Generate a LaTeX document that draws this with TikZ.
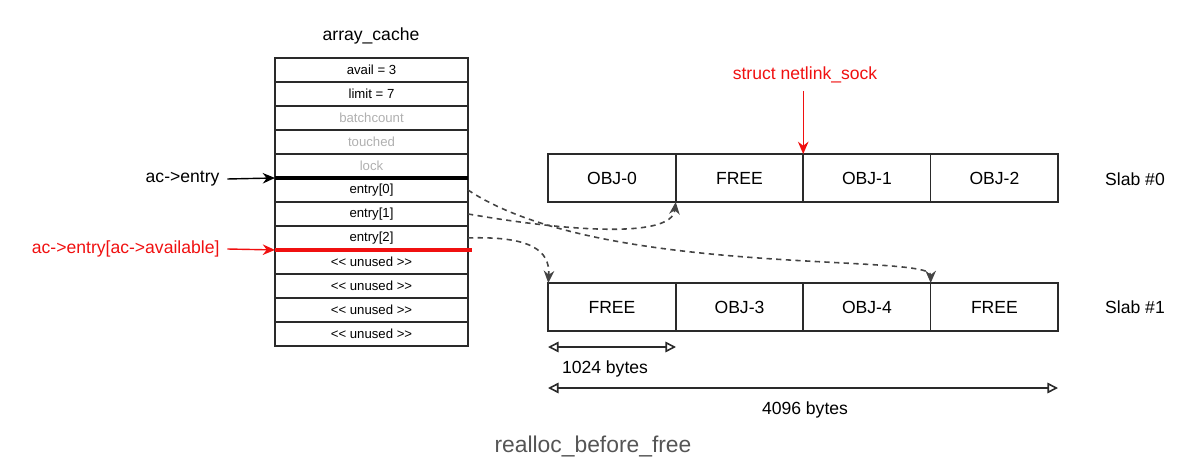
\documentclass[tikz,border=0pt]{standalone}
\usepackage{fontspec}
\setmainfont{Liberation Sans}
\usetikzlibrary{positioning,arrows.meta}
\definecolor{linegray}{HTML}{2A2A2A}
\definecolor{dashgray}{HTML}{444444}
\definecolor{fadegray}{HTML}{B0B0B0}
\definecolor{capgray}{HTML}{555555}
\definecolor{ptrred}{HTML}{F01010}
\newcommand{\unusedtxt}{<\kern0pt< unused >\kern0pt>}

\begin{document}
\begin{tikzpicture}[
    x=0.02cm,
    y=-0.02cm,
    line width=0.9pt,
    cell/.style={
        draw=linegray,
        minimum width=3.86cm,
        minimum height=0.48cm,
        inner sep=0pt,
        outer sep=0pt,
        font=\fontsize{7.5}{8}\selectfont,
    },
    faded/.style={
        text=fadegray,
    },
    slot/.style={
        draw=linegray,
        minimum width=2.55cm,
        minimum height=0.96cm,
        inner sep=0pt,
        outer sep=0pt,
        font=\fontsize{10}{12}\selectfont,
    },
    label/.style={
        font=\fontsize{10}{12}\selectfont,
        inner sep=1pt,
    },
    ptr/.style={
        -{Stealth[length=7pt,width=6pt]},
        line width=0.8pt,
    },
    link/.style={
        -{Stealth[length=7pt,width=6pt]},
        dash pattern=on 3pt off 2.5pt,
        draw=dashgray,
        line width=0.9pt,
    },
    span/.style={
        {Triangle[open,length=6pt,width=6pt]}-{Triangle[open,length=6pt,width=6pt]},
        draw=linegray,
    },
]
    \useasboundingbox (0,0) rectangle (1200,466);

    % array_cache
    \node[label] (title) at (371,36) {array\_cache};
    \node[cell]                       (avail)   at (371.5,70) {avail = 3};
    \node[cell, below=0pt of avail]   (limit)   {limit = 7};
    \node[cell, faded, below=0pt of limit] (batch) {batchcount};
    \node[cell, faded, below=0pt of batch] (touch) {touched};
    \node[cell, faded, below=0pt of touch] (lock)  {lock};
    \node[cell, below=0pt of lock]    (e0) {entry[0]};
    \node[cell, below=0pt of e0]      (e1) {entry[1]};
    \node[cell, below=0pt of e1]      (e2) {entry[2]};
    \node[cell, below=0pt of e2]      (u0) {\unusedtxt};
    \node[cell, below=0pt of u0]      (u1) {\unusedtxt};
    \node[cell, below=0pt of u1]      (u2) {\unusedtxt};
    \node[cell, below=0pt of u2]      (u3) {\unusedtxt};

    \draw[line width=2.2pt] (lock.south west) -- (lock.south east);
    \draw[ptrred, line width=2.2pt] (e2.south west) -- ([xshift=2pt]e2.south east);

    \node[label, anchor=east]              (acentry) at (222,179) {ac->entry};
    \node[label, anchor=east, text=ptrred] (acavail) at (222,249) {ac->entry[ac->available]};
    \draw[ptr] ([xshift=3pt]acentry.east) -- (lock.south west);
    \draw[ptr, ptrred] ([xshift=3pt]acavail.east) -- (e2.south west);

    % slabs
    \node[slot]                    (s0a) at (612,178) {OBJ-0};
    \node[slot, right=0pt of s0a]  (s0b) {FREE};
    \node[slot, right=0pt of s0b]  (s0c) {OBJ-1};
    \node[slot, right=0pt of s0c]  (s0d) {OBJ-2};
    \node[slot]                    (s1a) at (612,307) {FREE};
    \node[slot, right=0pt of s1a]  (s1b) {OBJ-3};
    \node[slot, right=0pt of s1b]  (s1c) {OBJ-4};
    \node[slot, right=0pt of s1c]  (s1d) {FREE};

    \node[label] (slab0) at (1135,179) {Slab \#0};
    \node[label] (slab1) at (1135,307) {Slab \#1};

    \node[label, text=ptrred] (nlsock) at (805,75) {struct netlink\_sock};
    \draw[ptr, ptrred] ([yshift=-3pt]nlsock.south -| s0b.north east) -- (s0b.north east);

    % freelist pointers
    \draw[link] (e0.east) .. controls +(132,88) and +(0,-30) .. (s1c.north east);
    \draw[link] (e1.east) .. controls +(92,16) and +(-4,38) .. (s0a.south east);
    \draw[link] (e2.east) .. controls +(62,-2) and +(2,-33) .. (s1a.north west);

    % sizes
    \coordinate (d1l) at (548,347);
    \coordinate (d1r) at (676,347);
    \coordinate (d4l) at (548,388);
    \coordinate (d4r) at (1058,388);
    \draw[span] (d1l) -- (d1r);
    \draw[span] (d4l) -- (d4r);
    \node[label] (kb1) at (605,369) {1024 bytes};
    \node[label] (kb4) at (805,410) {4096 bytes};

    \node[font=\fontsize{13}{15}\selectfont, text=capgray] (caption) at (593,446) {realloc\_before\_free};
\end{tikzpicture}
\end{document}
